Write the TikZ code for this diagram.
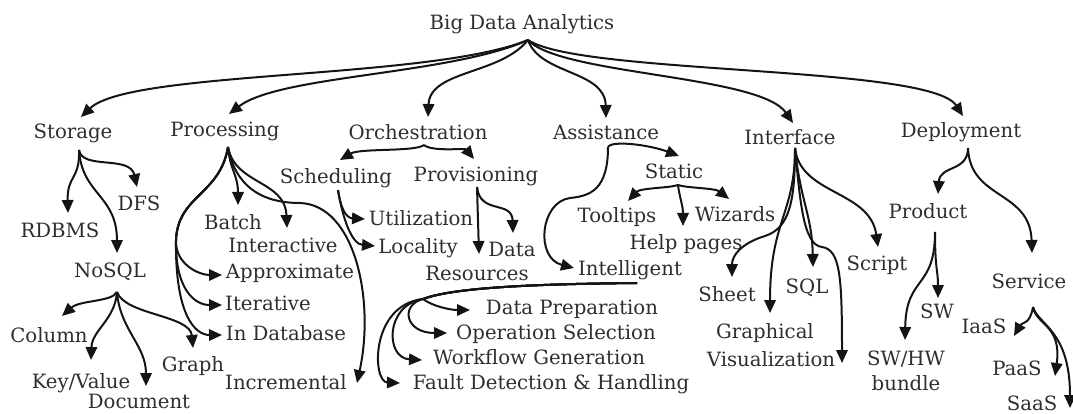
\documentclass[tikz,border=0pt]{standalone}
\usepackage{fontspec}
\setmainfont{DejaVu Serif}
\usetikzlibrary{arrows.meta,calc}
\begin{document}
\begin{tikzpicture}[x=1pt,y=-1pt,
  lbl/.style={inner sep=0pt, text height=15pt, text depth=4pt, text=black!82, font=\fontsize{19.7}{25}\selectfont},
  lbltwo/.style={inner sep=0pt, align=center, text=black!82, font=\fontsize{19.7}{25}\selectfont},
  arr/.style={line width=2pt, black!92, -{Triangle[length=13pt,width=11.5pt]}, line join=round}]
\useasboundingbox (0,0) rectangle (1073,414);
% level 0 and 1
\node[lbl] (root) at (522,24) {Big Data Analytics};
\node[lbl] (storage) at (73,133) {Storage};
\node[lbl] (processing) at (225,131) {Processing};
\node[lbl] (orchestration) at (418,134) {Orchestration};
\node[lbl] (assistance) at (606,134) {Assistance};
\node[lbl] (interface) at (790,139) {Interface};
\node[lbl] (deployment) at (961,132) {Deployment};
% storage
\node[lbl] (dfs) at (139,205) {DFS};
\node[lbl] (rdbms) at (60,232) {RDBMS};
\node[lbl] (nosql) at (110,272) {NoSQL};
\node[lbl] (column) at (49,337) {Column};
\node[lbl] (keyvalue) at (81,383) {Key/Value};
\node[lbl] (document) at (139,403) {Document};
\node[lbl] (graph) at (193,366) {Graph};
% processing
\node[lbl] (batch) at (233,224) {Batch};
\node[lbl] (interactive) at (283,247) {Interactive};
\node[lbl] (approximate) at (290,273) {Approximate};
\node[lbl] (iterative) at (268,305) {Iterative};
\node[lbl] (indatabase) at (286,335) {In Database};
\node[lbl] (incremental) at (286,384) {Incremental};
% orchestration
\node[lbl] (scheduling) at (336,178) {Scheduling};
\node[lbl] (provisioning) at (476,176) {Provisioning};
\node[lbl] (utilization) at (421,220) {Utilization};
\node[lbl] (locality) at (418,248) {Locality};
\node[lbl] (data) at (512,251) {Data};
\node[lbl] (resources) at (477,275) {Resources};
% assistance
\node[lbl] (static) at (674,173) {Static};
\node[lbl] (tooltips) at (617,217) {Tooltips};
\node[lbl] (wizards) at (735,216) {Wizards};
\node[lbl] (helppages) at (686,244) {Help pages};
\node[lbl] (intelligent) at (630,270) {Intelligent};
\node[lbl] (dataprep) at (572,309) {Data Preparation};
\node[lbl] (opsel) at (556,334) {Operation Selection};
\node[lbl] (workflow) at (539,359) {Workflow Generation};
\node[lbl] (fault) at (551,384) {Fault Detection \& Handling};
% interface
\node[lbl] (sheet) at (727,296) {Sheet};
\node[lbl] (sql) at (807,288) {SQL};
\node[lbl] (script) at (877,265) {Script};
\node[lbl] (graphical) at (765,333) {Graphical};
\node[lbl] (visualization) at (771,361) {Visualization};
% deployment
\node[lbl] (product) at (928,213) {Product};
\node[lbl] (sw) at (937,313) {SW};
\node[lbltwo] (swhw) at (906,370.5) {SW/HW\\bundle};
\node[lbl] (service) at (1029,283) {Service};
\node[lbl] (iaas) at (984,328) {IaaS};
\node[lbl] (paas) at (1017,370) {PaaS};
\node[lbl] (saas) at (1032,405) {SaaS};

% root connectors
\draw[arr] ($(root)+(6,16)$) .. controls (430,80) and (130,70) .. ($(storage)+(8,-16)$);
\draw[arr] ($(root)+(6,16)$) .. controls (450,75) and (280,75) .. ($(processing)+(4,-17)$);
\draw[arr] ($(root)+(6,16)$) .. controls (500,75) and (430,70) .. ($(orchestration)+(10,-17)$);
\draw[arr] ($(root)+(6,16)$) .. controls (540,75) and (605,70) .. ($(assistance)+(0,-16)$);
\draw[arr] ($(root)+(6,16)$) .. controls (560,75) and (760,75) .. ($(interface)+(3,-16)$);
\draw[arr] ($(root)+(6,16)$) .. controls (580,75) and (930,65) .. ($(deployment)+(2,-16)$);
% storage
\draw[arr] ($(storage)+(6,17)$) .. controls (82,170) and (130,155) .. ($(dfs)+(-2,-18)$);
\draw[arr] ($(storage)+(6,17)$) .. controls (80,180) and (67,175) .. ($(rdbms)+(8,-19)$);
\draw[arr] ($(storage)+(6,17)$) .. controls (82,195) and (117,195) .. ($(nosql)+(7,-19)$);
% nosql
\draw[arr] ($(nosql)+(7,20)$) .. controls (112,302) and (80,300) .. ($(column)+(13,-21)$);
\draw[arr] ($(nosql)+(7,20)$) .. controls (115,320) and (92,330) .. ($(keyvalue)+(10,-23)$);
\draw[arr] ($(nosql)+(7,20)$) .. controls (120,330) and (146,345) .. ($(document)+(7,-17)$);
\draw[arr] ($(nosql)+(7,20)$) .. controls (125,315) and (190,315) .. ($(graph)+(0,-18)$);
% processing
\draw[arr] ($(processing)+(3,16)$) .. controls (230,170) and (238,175) .. ($(batch)+(5,-19)$);
\draw[arr] ($(processing)+(3,16)$) .. controls (235,185) and (285,180) .. ($(interactive)+(4,-19)$);
\draw[arr] ($(processing)+(3,16)$) .. controls (235,185) and (260,203) .. (300,203) .. controls (355,205) and (375,300) .. ($(incremental)+(71,-1)$);
\draw[arr] ($(processing)+(3,16)$) .. controls (220,195) and (178,195) .. (176,240) .. controls (175,265) and (200,275) .. ($(approximate)+(-68,2)$);
\draw[arr] ($(processing)+(3,16)$) .. controls (220,195) and (178,195) .. (176,240) .. controls (175,290) and (195,305) .. ($(iterative)+(-46,0)$);
\draw[arr] ($(processing)+(3,16)$) .. controls (220,195) and (178,195) .. (176,240) .. controls (175,315) and (195,335) .. ($(indatabase)+(-64,0)$);
% orchestration
\draw[arr] ($(orchestration)+(6,11)$) .. controls (415,152) and (360,148) .. ($(scheduling)+(4,-18)$);
\draw[arr] ($(orchestration)+(6,11)$) .. controls (432,152) and (465,148) .. ($(provisioning)+(-2,-17)$);
\draw[arr] ($(scheduling)+(2,12)$) .. controls (340,205) and (345,218) .. ($(utilization)+(-56,-1)$);
\draw[arr] ($(scheduling)+(2,12)$) .. controls (343,220) and (352,244) .. ($(locality)+(-43,-2)$);
\draw[arr] ($(provisioning)+(1,11)$) .. controls (480,215) and (512,200) .. ($(data)+(1,-18)$);
\draw[arr] ($(provisioning)+(1,11)$) -- ($(resources)+(2,-21)$);
% assistance
\draw[arr] ($(assistance)+(2,13)$) .. controls (612,140) and (650,145) .. ($(static)+(5,-17)$);
\draw[arr] ($(assistance)+(2,13)$) .. controls (608,190) and (590,196) .. (570,198) .. controls (540,202) and (535,258) .. ($(intelligent)+(-56,-2)$);
\draw[arr] ($(static)+(4,12)$) .. controls (670,188) and (640,188) .. ($(tooltips)+(11,-16)$);
\draw[arr] ($(static)+(4,12)$) .. controls (686,188) and (715,188) .. ($(wizards)+(-6,-17)$);
\draw[arr] ($(static)+(4,12)$) .. controls (680,200) and (683,205) .. ($(helppages)+(-3,-18)$);
% intelligent
\draw[arr] ($(intelligent)+(7,13)$) .. controls (540,284) and (455,287) .. (423,299) .. controls (432,306) and (450,310) .. ($(dataprep)+(-102,1)$);
\draw[arr] ($(intelligent)+(7,13)$) .. controls (540,284) and (455,287) .. (423,299) .. controls (400,305) and (405,333) .. ($(opsel)+(-109,-1)$);
\draw[arr] ($(intelligent)+(7,13)$) .. controls (540,284) and (455,287) .. (423,299) .. controls (385,305) and (385,358) .. ($(workflow)+(-117,1)$);
\draw[arr] ($(intelligent)+(7,13)$) .. controls (540,284) and (455,287) .. (423,299) .. controls (370,305) and (372,382) .. ($(fault)+(-151,-1)$);
% interface
\draw[arr] ($(interface)+(5,9)$) .. controls (795,200) and (790,228) .. (765,236) .. controls (742,243) and (732,255) .. ($(sheet)+(5,-19)$);
\draw[arr] ($(interface)+(5,9)$) .. controls (795,215) and (770,220) .. ($(graphical)+(5,-20)$);
\draw[arr] ($(interface)+(5,9)$) .. controls (800,200) and (812,215) .. ($(sql)+(6,-21)$);
\draw[arr] ($(interface)+(5,9)$) .. controls (800,200) and (803,245) .. (822,247) .. controls (840,250) and (842,275) .. ($(visualization)+(71,2)$);
\draw[arr] ($(interface)+(5,9)$) .. controls (800,195) and (870,190) .. ($(script)+(1,-18)$);
% deployment
\draw[arr] ($(deployment)+(7,16)$) .. controls (968,172) and (940,165) .. ($(product)+(10,-19)$);
\draw[arr] ($(deployment)+(7,16)$) .. controls (970,200) and (1030,190) .. ($(service)+(3,-30)$);
\draw[arr] ($(product)+(7,19)$) .. controls (935,270) and (938,270) .. ($(sw)+(1,-15)$);
\draw[arr] ($(product)+(7,19)$) .. controls (935,290) and (906,275) .. ($(swhw)+(-1,-30.5)$);
\draw[arr] ($(service)+(4,24)$) .. controls (1030,325) and (1022,322) .. ($(iaas)+(30,8)$);
\draw[arr] ($(service)+(4,24)$) .. controls (1036,325) and (1062,325) .. ($(paas)+(38,6)$);
\draw[arr] ($(service)+(4,24)$) .. controls (1038,325) and (1070,330) .. ($(saas)+(38,3)$);
\end{tikzpicture}
\end{document}
